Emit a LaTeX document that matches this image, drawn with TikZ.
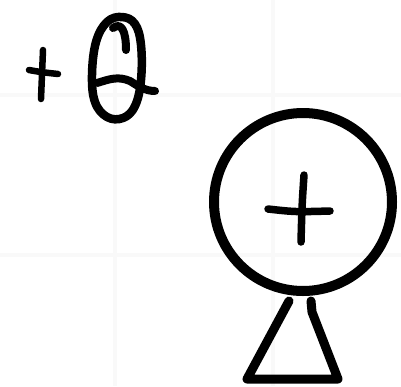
\documentclass[tikz,border=0pt]{standalone}
\begin{document}
\begin{tikzpicture}[x=1pt,y=-1pt,
  ink/.style={line cap=round,line join=round,draw=black},
  gridline/.style={draw=black!2.5,line width=4pt}]
\useasboundingbox (0,0) rectangle (401,386);
\fill[white] (0,0) rectangle (401,386);
% faint grid
\draw[gridline] (115,0) -- (115,386);
\draw[gridline] (273,0) -- (273,386);
\draw[gridline] (0,95) -- (401,95);
\draw[gridline] (0,255) -- (401,255);
% small plus
\draw[ink,line width=6.5pt] (43,50) -- (41,99);
\draw[ink,line width=6.5pt] (29,70) .. controls (40,72) .. (58,74);
% theta-like glyph
\draw[ink,line width=8.5pt] plot[smooth cycle,tension=0.65] coordinates
  {(122,17) (135,24) (141,45) (141,80) (135,106) (123,118) (107,117) (95,102) (92,75) (96,42) (107,22)};
\draw[ink,line width=8pt] (113,28) .. controls (121,22) and (126,30) .. (126,50);
\draw[ink,line width=8pt] (97,83) .. controls (110,79) and (118,76) .. (130,81)
  .. controls (138,86) and (145,91) .. (155,91);
% big circle with plus
\draw[ink,line width=10pt] (303,202) circle[radius=89];
\draw[ink,line width=7.5pt] (304,175) .. controls (302,205) .. (301,242);
\draw[ink,line width=7.5pt] (268,209) .. controls (295,212) .. (330,211);
% stand
\draw[ink,line width=9pt] (289,301) -- (247,379) -- (338,379) -- (312,312) -- (311,301);
\end{tikzpicture}
\end{document}
